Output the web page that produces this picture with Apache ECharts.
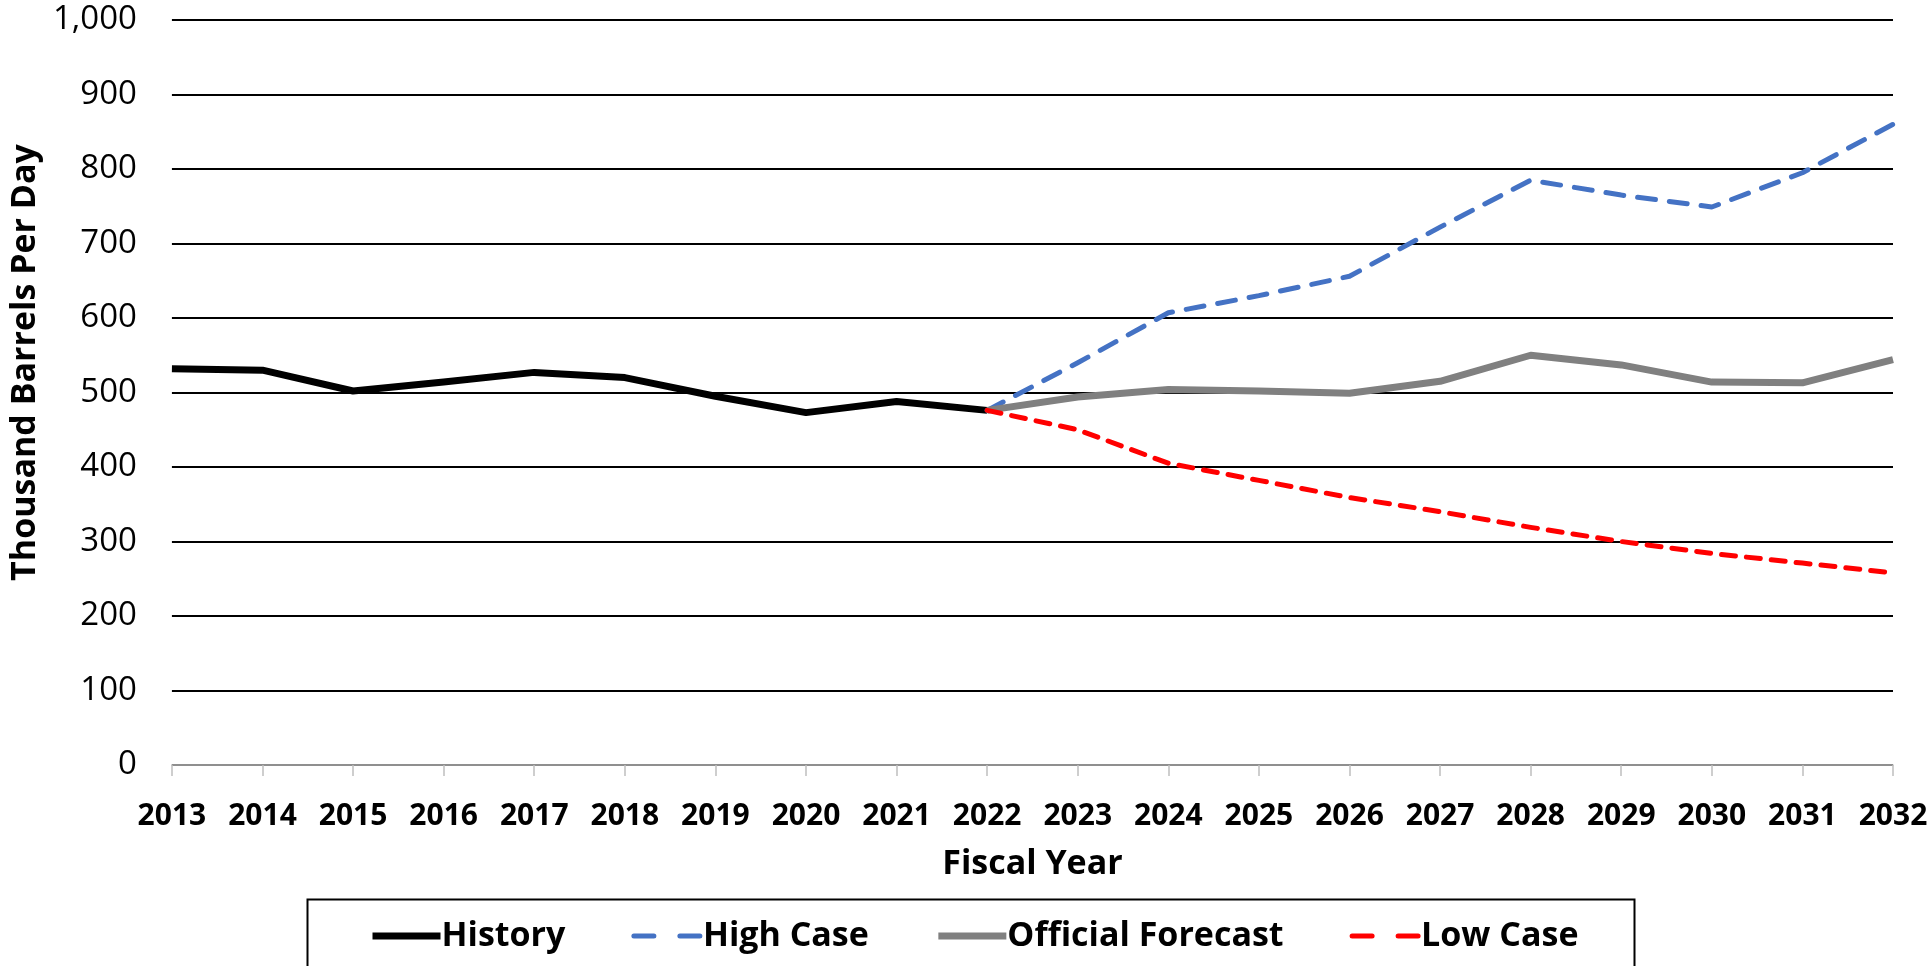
<!DOCTYPE html>
<html>
<head>
<meta charset="utf-8">
<script src="https://cdn.jsdelivr.net/npm/echarts@6/dist/echarts.min.js"></script>
<style>
  html, body { margin: 0; padding: 0; background: #fff; }
  #chart { width: 1931px; height: 966px; }
</style>
</head>
<body>
<div id="chart"></div>
<script>
// fiscal years on the x axis
const years = ["2013", "2014", "2015", "2016", "2017", "2018", "2019", "2020", "2021", "2022",
  "2023", "2024", "2025", "2026", "2027", "2028", "2029", "2030", "2031", "2032"];

// thousand barrels per day
const history = [532, 530, 502, 514, 527, 520, 495, 473, 488, 476,
  null, null, null, null, null, null, null, null, null, null];
const highCase = [null, null, null, null, null, null, null, null, null, 476,
  540, 607, 630, 656, 722, 785, 765, 749, 795, 860];
const officialForecast = [null, null, null, null, null, null, null, null, null, 476,
  494, 504, 502, 499, 515, 550, 537, 514, 513, 544];
const lowCase = [null, null, null, null, null, null, null, null, null, 476,
  450, 405, 382, 359, 340, 319, 300, 284, 271, 258];

const yTicks = [0, 100, 200, 300, 400, 500, 600, 700, 800, 900, 1000];

const font = "'Open Sans', 'Noto Sans', sans-serif";
const myChart = echarts.init(document.getElementById("chart"));

const options = {
  animation: false,
  textStyle: { fontFamily: font },
  grid: { left: 168, right: 38, top: 20, bottom: 201 },
  xAxis: {
    type: "category",
    data: years,
    boundaryGap: false,
    name: "Fiscal Year",
    nameLocation: "middle",
    nameGap: 82,
    nameTextStyle: { fontSize: 34, fontWeight: "bold", color: "#000" },
    axisLine: { lineStyle: { color: "#bfbfbf", width: 1.5 } },
    axisTick: { show: true, length: 11, lineStyle: { color: "#bfbfbf", width: 1.5 } },
    axisLabel: { fontSize: 30, fontWeight: "bold", color: "#000", margin: 36, interval: 0 },
    splitLine: { show: false },
  },
  yAxis: {
    type: "value",
    min: yTicks[0],
    max: yTicks[yTicks.length - 1],
    interval: 100,
    name: "Thousand Barrels Per Day",
    nameLocation: "middle",
    nameGap: 126,
    nameTextStyle: { fontSize: 34, fontWeight: "bold", color: "#000", padding: [0, 0, 0, 60] },
    axisLine: { show: false },
    axisTick: { show: false },
    axisLabel: {
      fontSize: 33,
      color: "#000",
      margin: 35,
      formatter: (v) => v.toLocaleString("en-US"),
    },
    splitLine: { lineStyle: { color: "#000", width: 2 } },
  },
  legend: {
    left: 364,
    top: 914,
    itemGap: 66,
    itemWidth: 68,
    itemHeight: 14,
    itemStyle: { opacity: 0 },
    lineStyle: { width: "inherit" },
    textStyle: { fontSize: 34, fontWeight: "bold", color: "#000", padding: [0, 0, 0, -4] },
    data: [
      { name: "History" },
      { name: "High Case", lineStyle: { type: [20, 26], cap: "round" } },
      { name: "Official Forecast" },
      { name: "Low Case", lineStyle: { type: [20, 26], cap: "round" } },
    ],
  },
  graphic: [
    {
      type: "rect",
      left: 305,
      top: 897,
      shape: { width: 1327, height: 80 },
      style: { fill: "none", stroke: "#000", lineWidth: 2 },
      silent: true,
      z: -1,
    },
  ],
  series: [
    {
      name: "History",
      type: "line",
      data: history,
      symbol: "none",
      lineStyle: { color: "#000", width: 7, join: "round" },
      itemStyle: { color: "#000" },
    },
    {
      name: "High Case",
      type: "line",
      data: highCase,
      symbol: "none",
      lineStyle: { color: "#4472c4", width: 5, type: [18, 14], cap: "round", join: "round" },
      itemStyle: { color: "#4472c4" },
    },
    {
      name: "Official Forecast",
      type: "line",
      data: officialForecast,
      symbol: "none",
      lineStyle: { color: "#808080", width: 7, join: "round" },
      itemStyle: { color: "#808080" },
    },
    {
      name: "Low Case",
      type: "line",
      data: lowCase,
      symbol: "none",
      lineStyle: { color: "#ff0000", width: 5, type: [14, 11], cap: "round", join: "round" },
      itemStyle: { color: "#ff0000" },
    },
  ],
};

myChart.setOption(options);
</script>
</body>
</html>
